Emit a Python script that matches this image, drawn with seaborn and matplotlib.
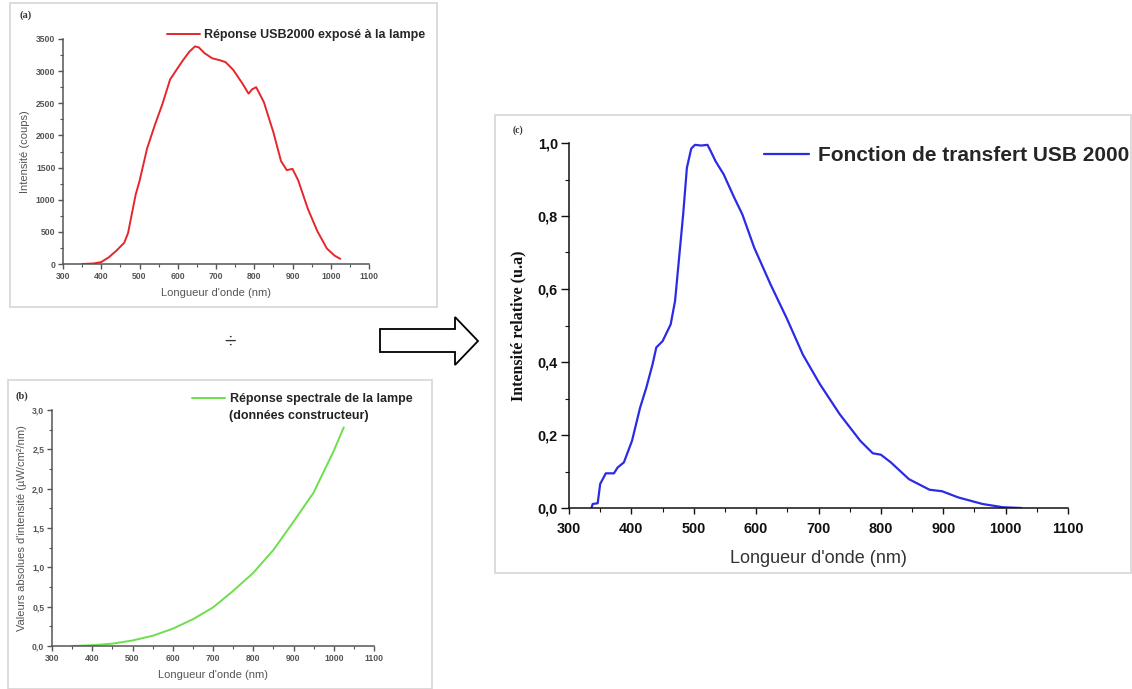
import seaborn as sns
import matplotlib.pyplot as plt
from matplotlib.patches import Rectangle, Polygon
from matplotlib.ticker import MultipleLocator, FuncFormatter

# (a) réponse du USB2000 exposé à la lampe
resp_nm = [350, 380, 400, 420, 440, 460, 470, 480, 490, 500, 520, 540, 560, 580, 590,
           600, 615, 630, 645, 655, 670, 690, 710, 725, 745, 770, 785, 795, 805, 825,
           850, 870, 885, 900, 915, 940, 965, 990, 1010, 1025]
resp_counts = [0, 8, 30, 105, 210, 330, 480, 780, 1080, 1290, 1800, 2160, 2490, 2870, 2960,
               3050, 3180, 3300, 3385, 3370, 3280, 3200, 3170, 3140, 3020, 2800, 2650, 2720, 2750, 2520,
               2050, 1600, 1460, 1480, 1300, 860, 510, 240, 130, 80]

# (b) réponse spectrale de la lampe (données constructeur)
lamp_nm = [350, 400, 450, 500, 550, 600, 650, 700, 750, 800, 850, 900, 950, 1000, 1025]
lamp_val = [0, 0.01, 0.03, 0.07, 0.13, 0.22, 0.34, 0.49, 0.70, 0.93, 1.22, 1.58, 1.95, 2.48, 2.78]

# (c) fonction de transfert
tf_nm = [336, 338, 346, 350, 359, 372, 378, 388, 401, 414, 424, 434, 440, 450, 463, 470,
         476, 483, 489, 496, 502, 512, 522, 528, 535, 548, 565, 578, 597, 623, 649, 675, 702, 734,
         767, 787, 800, 816, 845, 878, 898, 924, 963, 996, 1025]
tf_val = [0, 0.011, 0.013, 0.066, 0.095, 0.095, 0.111, 0.125, 0.184, 0.275, 0.33, 0.394, 0.44,
          0.457, 0.503, 0.567, 0.676, 0.804, 0.932, 0.985, 0.995, 0.993, 0.995, 0.975, 0.95, 0.914,
          0.85, 0.804, 0.713, 0.613, 0.52, 0.42, 0.34, 0.257, 0.184, 0.15, 0.146, 0.125, 0.079, 0.05,
          0.046, 0.029, 0.011, 0.002, 0]

sns.set_style("ticks")
plt.rcParams["font.family"] = ["Liberation Sans", "DejaVu Sans"]

W, H = 1132, 689
fig = plt.figure(figsize=(W / 100, H / 100), dpi=100)

# background layer in pixel coords for frames, arrow and divide sign
bg = fig.add_axes([0, 0, 1, 1], zorder=-1)
bg.set_xlim(0, W)
bg.set_ylim(H, 0)
bg.axis("off")
for (x0, y0, x1, y1) in [(10, 3, 437, 307), (8, 380, 432, 689), (495, 115, 1131, 573)]:
    bg.add_patch(Rectangle((x0, y0), x1 - x0, y1 - y0, fill=False, ec="#d6d6d6", lw=1.2))
bg.add_patch(Polygon([(380, 329), (455, 329), (455, 317), (478, 341), (455, 365), (455, 352), (380, 352)],
                     closed=True, fc="white", ec="black", lw=1.3))
bg.text(230, 342, "÷", fontsize=15, ha="center", va="center", color="#333333")


def px_axes(l, t, r, b):
    return fig.add_axes([l / W, 1 - b / H, (r - l) / W, (b - t) / H])


comma = FuncFormatter(lambda v, p: f"{v:.1f}".replace(".", ","))


def style(ax, col, tsize, major, minor, ylo, yhi, ymaj, ymin, fmt=None):
    ax.set_xlim(300, 1100)
    ax.set_ylim(ylo, yhi)
    ax.xaxis.set_major_locator(MultipleLocator(100))
    ax.xaxis.set_minor_locator(MultipleLocator(50))
    ax.yaxis.set_major_locator(MultipleLocator(ymaj))
    ax.yaxis.set_minor_locator(MultipleLocator(ymin))
    if fmt is not None:
        ax.yaxis.set_major_formatter(fmt)
    ax.tick_params(which="major", length=major, width=1, color=col, labelsize=tsize,
                   labelcolor=col, pad=2)
    ax.tick_params(which="minor", length=minor, width=0.8, color=col)
    for lab in ax.get_xticklabels() + ax.get_yticklabels():
        lab.set_fontweight("bold")
    sns.despine(ax=ax)
    for s in ("left", "bottom"):
        ax.spines[s].set_color(col)
        ax.spines[s].set_linewidth(1.1)
    ax.patch.set_alpha(0)


legend_kw = dict(bbox_transform=fig.transFigure, frameon=False, borderpad=0, borderaxespad=0,
                 handletextpad=0.4)

# ---- (a)
ax_a = px_axes(63, 39, 369, 264)
sns.lineplot(x=resp_nm, y=resp_counts, ax=ax_a, color="#e5262b", lw=1.4,
             label="Réponse USB2000 exposé à la lampe")
style(ax_a, "#555555", 6.2, 3.5, 2, 0, 3500, 500, 250)
ax_a.set_xlabel("Longueur d'onde (nm)", fontsize=8, color="#555555", labelpad=5)
ax_a.set_ylabel("Intensité (coups)", fontsize=8, color="#555555", labelpad=4)
ax_a.legend(loc="upper left", bbox_to_anchor=(167 / W, 1 - 29 / H), handlelength=2.6,
            prop={"size": 9, "weight": "bold"}, **legend_kw)
fig.text(20 / W, 1 - 15 / H, "(a)", fontsize=7.5, fontweight="bold",
         family="Liberation Serif", va="center", color="#333333")

# ---- (b)
ax_b = px_axes(52, 410, 374, 646)
sns.lineplot(x=lamp_nm, y=lamp_val, ax=ax_b, color="#6be04c", lw=1.4,
             label="Réponse spectrale de la lampe")
style(ax_b, "#555555", 6.2, 3.5, 2, 0, 3.0, 0.5, 0.25, comma)
ax_b.set_xlabel("Longueur d'onde (nm)", fontsize=8, color="#555555", labelpad=5)
ax_b.set_ylabel("Valeurs absolues d'intensité (µW/cm²/nm)", fontsize=8,
                color="#555555", labelpad=4)
ax_b.legend(loc="upper left", bbox_to_anchor=(192 / W, 1 - 393 / H), handlelength=2.6,
            prop={"size": 9, "weight": "bold"}, **legend_kw)
fig.text(229 / W, 1 - 416 / H, "(données constructeur)", fontsize=9, fontweight="bold",
         va="center", color="#222222")
fig.text(16 / W, 1 - 396 / H, "(b)", fontsize=7.5, fontweight="bold",
         family="Liberation Serif", va="center", color="#333333")

# ---- (c)
ax_c = px_axes(569, 143, 1068, 508)
sns.lineplot(x=tf_nm, y=tf_val, ax=ax_c, color="#2b2be6", lw=1.6,
             label="Fonction de transfert USB 2000")
style(ax_c, "#111111", 10.4, 6, 3, 0, 1.0, 0.2, 0.1, comma)
ax_c.tick_params(axis="x", which="major", length=4, pad=6)
ax_c.set_xlabel("Longueur d'onde (nm)", fontsize=13, color="#333333", labelpad=10)
ax_c.set_ylabel("Intensité relative (u.a)", fontsize=11.5, fontweight="bold",
                family="Liberation Serif", color="#111111", labelpad=8)
ax_c.legend(loc="upper right", bbox_to_anchor=(1129 / W, 1 - 146 / H), handlelength=2.2,
            prop={"size": 15, "weight": "bold"}, **legend_kw)
fig.text(513 / W, 1 - 130 / H, "(c)", fontsize=7, fontweight="bold",
         family="Liberation Serif", va="center", color="#333333")

fig.savefig("out.png", dpi=100)
